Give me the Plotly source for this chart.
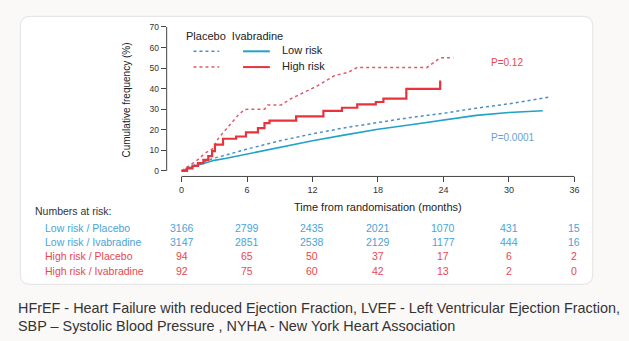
import plotly.graph_objects as go

# ---- Kaplan-Meier style cumulative frequency curves (months, %) ----
lr_plac_t = [0, 1, 2, 3, 4, 6, 9, 12, 15, 18, 21, 24, 27, 30, 33, 33.8]
lr_plac_v = [0, 2.5, 4.4, 6.2, 7.6, 10.6, 14.6, 18.0, 21.0, 23.6, 26.0, 28.0, 30.5, 32.6, 35.2, 36.0]

lr_ivab_t = [0, 1, 2, 3, 4, 6, 9, 12, 15, 18, 21, 24, 27, 30, 33.1]
lr_ivab_v = [0, 2.0, 3.6, 5.1, 6.0, 8.2, 11.4, 14.6, 17.5, 20.2, 22.4, 24.6, 27.0, 28.4, 29.2]

hr_plac_t = [0, 0.6, 1.5, 2.15, 2.8, 3.4, 4.3, 5.2, 5.8, 7.6, 7.9, 9.1, 10.0, 11.2,
             12.5, 14.0, 15.3, 16.1, 22.5, 23.7, 24.9]
hr_plac_v = [0, 2.2, 5.4, 8.6, 10.5, 16.0, 21.6, 27.2, 29.9, 30.0, 32.0, 32.0, 35.0, 38.3,
             41.5, 46.3, 48.0, 50.3, 50.3, 55.0, 55.0]

hr_ivab_t = [0, 0.5, 1.0, 1.5, 2.0, 2.45, 2.8, 3.06, 3.8, 5.0, 5.9, 7.0, 7.6, 8.06,
             10.5, 13.0, 14.7, 16.1, 17.8, 18.5, 20.6, 23.7]
hr_ivab_v = [0, 1.2, 2.4, 3.8, 5.3, 7.2, 9.6, 12.8, 15.6, 16.7, 18.7, 20.8, 23.2, 24.4,
             26.5, 29.2, 30.7, 32.3, 33.5, 35.1, 39.9, 43.9]

# ---- axis ticks ----
x_ticks = [0, 6, 12, 18, 24, 30, 36]
y_ticks = [0, 10, 20, 30, 40, 50, 60, 70]

# ---- numbers at risk table ----
risk_labels = ["Low risk / Placebo", "Low risk / Ivabradine",
               "High risk / Placebo", "High risk / Ivabradine"]
risk_counts = [
    [3166, 2799, 2435, 2021, 1070, 431, 15],
    [3147, 2851, 2538, 2129, 1177, 444, 16],
    [94, 65, 50, 37, 17, 6, 2],
    [92, 75, 60, 42, 13, 2, 0],
]

p_low = "P=0.0001"
p_high = "P=0.12"

footer_lines = [
    "HFrEF - Heart Failure with reduced Ejection Fraction, LVEF - Left Ventricular Ejection Fraction,",
    "SBP \u2013 Systolic Blood Pressure , NYHA - New York Heart Association",
]

# ---- styling ----
W, H = 629, 341
FONT = "Liberation Sans, Arial, sans-serif"
BLUE = "#1fa3c6"
BLUE_DOT = "#4b8fc4"
RED = "#e8323c"
RED_DOT = "#e05a6a"
BLUE_TXT = "#4aa3d8"
RED_TXT = "#e8474e"
AX = "#444444"

X_RANGE = [-1.364, 36.0]
Y_RANGE = [-2.73, 70.0]
X_DOM = [168 / W, 579 / W]
Y_DOM = [1 - 174 / H, 1 - 22.3 / H]


def px(x):  # pixel x -> paper
    return x / W


def py(y):  # pixel y -> paper
    return 1 - y / H


def ty(y):  # text centre correction
    return py(y - 1.5)


def data_x(t):  # month -> paper
    return X_DOM[0] + (t - X_RANGE[0]) / (X_RANGE[1] - X_RANGE[0]) * (X_DOM[1] - X_DOM[0])


def data_y(v):  # percent -> paper
    return Y_DOM[0] + (v - Y_RANGE[0]) / (Y_RANGE[1] - Y_RANGE[0]) * (Y_DOM[1] - Y_DOM[0])


fig = go.Figure()
fig.add_trace(go.Scatter(x=lr_plac_t, y=lr_plac_v, mode="lines",
                         line=dict(color=BLUE_DOT, width=1.5, dash="dot")))
fig.add_trace(go.Scatter(x=lr_ivab_t, y=lr_ivab_v, mode="lines",
                         line=dict(color=BLUE, width=1.6)))
fig.add_trace(go.Scatter(x=hr_plac_t, y=hr_plac_v, mode="lines",
                         line=dict(color=RED_DOT, width=1.5, dash="dot")))
fig.add_trace(go.Scatter(x=hr_ivab_t, y=hr_ivab_v, mode="lines", line_shape="hv",
                         line=dict(color=RED, width=2.2)))

shapes = []
# card with rounded corners
l, r, t, b, rad = 20.5, 597.5, 11.5, 283.5, 10
rx, ry = rad / W, rad / H
path = (f"M {px(l)+rx},{py(t)} L {px(r)-rx},{py(t)} Q {px(r)},{py(t)} {px(r)},{py(t)-ry} "
        f"L {px(r)},{py(b)+ry} Q {px(r)},{py(b)} {px(r)-rx},{py(b)} "
        f"L {px(l)+rx},{py(b)} Q {px(l)},{py(b)} {px(l)},{py(b)+ry} "
        f"L {px(l)},{py(t)-ry} Q {px(l)},{py(t)} {px(l)+rx},{py(t)} Z")
shapes.append(dict(type="path", path=path, xref="paper", yref="paper",
                   fillcolor="white", line=dict(color="#e2e2e4", width=1), layer="below"))
# axis lines (detached, R-style)
shapes.append(dict(type="line", xref="paper", yref="paper",
                   x0=data_x(0), x1=data_x(36), y0=Y_DOM[0], y1=Y_DOM[0],
                   line=dict(color=AX, width=1)))
shapes.append(dict(type="line", xref="paper", yref="paper",
                   x0=X_DOM[0], x1=X_DOM[0], y0=data_y(0), y1=data_y(70),
                   line=dict(color=AX, width=1)))

# legend samples
leg_rows = [(47, BLUE_DOT, BLUE, "Low risk"), (63, RED_DOT, RED, "High risk")]
annotations = []
for yy, cdot, csol, name in leg_rows:
    shapes.append(dict(type="line", xref="paper", yref="paper",
                       x0=px(195), x1=px(221), y0=py(yy), y1=py(yy),
                       line=dict(color=cdot, width=1.5, dash="dot")))
    shapes.append(dict(type="line", xref="paper", yref="paper",
                       x0=px(245), x1=px(272), y0=py(yy), y1=py(yy),
                       line=dict(color=csol, width=2)))
    annotations.append(dict(x=px(282), y=ty(yy), xref="paper", yref="paper",
                            text=name, showarrow=False, xanchor="left", yanchor="middle",
                            font=dict(size=11, color="#222", family=FONT)))
annotations.append(dict(x=px(185), y=ty(33), xref="paper", yref="paper",
                        text="Placebo  Ivabradine", showarrow=False,
                        xanchor="left", yanchor="middle",
                        font=dict(size=11, color="#222", family=FONT)))

# p-values
annotations.append(dict(x=px(493), y=ty(60), xref="paper", yref="paper", text=p_high,
                        showarrow=False, xanchor="left", yanchor="middle",
                        font=dict(size=10, color=RED_TXT, family=FONT)))
annotations.append(dict(x=px(493), y=ty(136), xref="paper", yref="paper", text=p_low,
                        showarrow=False, xanchor="left", yanchor="middle",
                        font=dict(size=10, color="#6a9fd0", family=FONT)))

# numbers at risk
annotations.append(dict(x=px(33), y=ty(211), xref="paper", yref="paper",
                        text="Numbers at risk:", showarrow=False,
                        xanchor="left", yanchor="middle",
                        font=dict(size=10.5, color="#333", family=FONT)))
row_y = [227.5, 242, 256.7, 271]
row_col = [BLUE_TXT, BLUE_TXT, RED_TXT, RED_TXT]
for lab, counts, yy, col in zip(risk_labels, risk_counts, row_y, row_col):
    annotations.append(dict(x=px(43), y=ty(yy), xref="paper", yref="paper", text=lab,
                            showarrow=False, xanchor="left", yanchor="middle",
                            font=dict(size=10.5, color=col, family=FONT)))
    for tk, n in zip(x_ticks, counts):
        annotations.append(dict(x=data_x(tk), y=ty(yy), xref="paper", yref="paper",
                                text=str(n), showarrow=False, xanchor="center",
                                yanchor="middle",
                                font=dict(size=10.5, color=col, family=FONT)))

# axis titles
annotations.append(dict(x=data_x(18), y=ty(206), xref="paper", yref="paper",
                        text="Time from randomisation (months)", showarrow=False,
                        xanchor="center", yanchor="middle",
                        font=dict(size=11, color="#222", family=FONT)))
annotations.append(dict(x=px(128), y=py(96), xref="paper", yref="paper",
                        text="Cumulative frequency (%)", showarrow=False, textangle=-90,
                        xanchor="center", yanchor="middle",
                        font=dict(size=10, color="#222", family=FONT)))

# footnote
for i, line in enumerate(footer_lines):
    annotations.append(dict(x=px(16), y=py(308 + 18 * i), xref="paper", yref="paper",
                            text=line, showarrow=False, xanchor="left", yanchor="middle",
                            font=dict(size=14.4, color="#333", family=FONT)))

fig.update_layout(
    width=W, height=H, autosize=False,
    margin=dict(l=0, r=0, t=0, b=0),
    paper_bgcolor="#fbf9f8", plot_bgcolor="rgba(0,0,0,0)",
    showlegend=False,
    shapes=shapes, annotations=annotations,
    xaxis=dict(domain=X_DOM, range=X_RANGE, tickmode="array", tickvals=x_ticks,
               ticks="outside", ticklen=5, tickcolor=AX, tickwidth=1,
               showline=False, showgrid=False, zeroline=False,
               tickfont=dict(size=9, color="#333", family=FONT)),
    yaxis=dict(domain=Y_DOM, range=Y_RANGE, tickmode="array", tickvals=y_ticks,
               ticks="outside", ticklen=5, tickcolor=AX, tickwidth=1,
               showline=False, showgrid=False, zeroline=False,
               tickfont=dict(size=8.5, color="#333", family=FONT)),
)

fig.write_html("out.html")
